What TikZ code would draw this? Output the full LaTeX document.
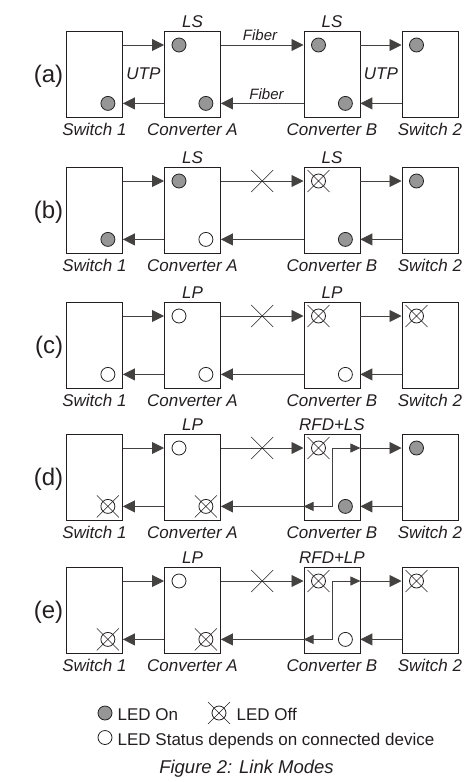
\documentclass[tikz,border=0pt]{standalone}
\usepackage{fontspec}
\setmainfont{Liberation Sans}
\usetikzlibrary{arrows.meta,calc}
\definecolor{ledgray}{RGB}{150,150,150}
\definecolor{ink}{RGB}{35,31,32}
\tikzset{
  box/.style={draw=ink, line width=0.9pt, minimum width=56pt, minimum height=85.5pt,
    anchor=north west, inner sep=0pt, fill=white},
  led/.style={circle, draw=ink, line width=0.8pt, minimum size=14pt, inner sep=0pt},
  xline/.style={draw=ink, line width=0.6pt},
  conn/.style={draw=ink!85, line width=0.9pt, -{Triangle[length=12pt,width=12pt]}},
  loopc/.style={draw=ink!85, line width=0.9pt,
    {Triangle[length=10pt,width=9pt]}-{Triangle[length=10pt,width=9pt]}},
  lbl/.style={font=\fontsize{17}{20}\selectfont\itshape, text=ink, inner sep=0pt},
  fib/.style={font=\fontsize{15}{18}\selectfont\itshape, text=ink, inner sep=0pt},
  plbl/.style={font=\fontsize{24}{28}\selectfont, text=ink, inner sep=0pt},
  leg/.style={font=\fontsize{17}{20}\selectfont, text=ink, inner sep=0pt},
  capt/.style={font=\fontsize{18.5}{22}\selectfont\itshape, text=ink, inner sep=0pt},
}
\def\LEDon#1#2{\node[led,fill=ledgray] (#1) at (#2) {};}
\def\LEDst#1#2{\node[led,fill=white] (#1) at (#2) {};}
\def\LEDoff#1#2{\node[led,fill=white] (#1) at (#2) {};
  \draw[xline] ([shift={(-11pt,-11pt)}]#1.center) -- ([shift={(11pt,11pt)}]#1.center)
               ([shift={(-11pt,11pt)}]#1.center) -- ([shift={(11pt,-11pt)}]#1.center);}
\begin{document}
\begin{tikzpicture}[x=1pt,y=-1pt]
\path[use as bounding box] (0,0) rectangle (474,782);
\foreach \p/\t/\A/\B/\C/\D/\E/\F/\la/\lb in {
  a/31/on/on/on/on/on/on/LS/LS,
  b/167/on/on/st/off/on/on/LS/LS,
  c/302/st/st/st/off/st/off/LP/LP,
  d/434/off/st/off/off/on/on/LP/RFD+LS,
  e/567/off/st/off/off/st/off/LP/RFD+LP}{
  \node[box] (s1\p) at (66,\t) {};
  \node[box] (ca\p) at (164,\t) {};
  \node[box] (cb\p) at (303.5,\t) {};
  \node[box] (s2\p) at (401.5,\t) {};
  % connectors
  \draw[conn] ([yshift=-14pt]s1\p.north east) -- ([yshift=-14pt]ca\p.north west);
  \draw[conn] ([yshift=-14pt]ca\p.north east) -- ([yshift=-14pt]cb\p.north west);
  \draw[conn] ([yshift=-14pt]cb\p.north east) -- ([yshift=-14pt]s2\p.north west);
  \draw[conn] ([yshift=14pt]ca\p.south west) -- ([yshift=14pt]s1\p.south east);
  \draw[conn] ([yshift=14pt]cb\p.south west) -- ([yshift=14pt]ca\p.south east);
  \draw[conn] ([yshift=14pt]s2\p.south west) -- ([yshift=14pt]cb\p.south east);
  % LEDs
  \csname LED\A\endcsname{l1\p}{[xshift=-15pt,yshift=14pt]s1\p.south east}
  \csname LED\B\endcsname{l2\p}{[xshift=15pt,yshift=-14pt]ca\p.north west}
  \csname LED\C\endcsname{l3\p}{[xshift=-15pt,yshift=14pt]ca\p.south east}
  \csname LED\D\endcsname{l4\p}{[xshift=15pt,yshift=-14pt]cb\p.north west}
  \csname LED\E\endcsname{l5\p}{[xshift=-15pt,yshift=14pt]cb\p.south east}
  \csname LED\F\endcsname{l6\p}{[xshift=15pt,yshift=-14pt]s2\p.north west}
  % labels
  \node[lbl,anchor=base] (ta\p) at ([yshift=4pt]ca\p.north) {\la};
  \node[lbl,anchor=base] (tb\p) at ([yshift=4pt]cb\p.north) {\lb};
  \node[lbl,anchor=base] (n1\p) at ([yshift=-18pt]s1\p.south) {Switch 1};
  \node[lbl,anchor=base] (n2\p) at ([yshift=-18pt]ca\p.south) {Converter A};
  \node[lbl,anchor=base] (n3\p) at ([yshift=-18pt]cb\p.south) {Converter B};
  \node[lbl,anchor=base] (n4\p) at ([yshift=-18pt]s2\p.south) {Switch 2};
  \node[plbl,anchor=base east] (pl\p) at ([xshift=-2.7pt,yshift=-8.5pt]s1\p.west) {(\p)};
}
% fiber breaks
\foreach \p in {b,c,d,e}{
  \coordinate (br\p) at ($([yshift=-14pt]ca\p.north east)!0.5!([yshift=-14pt]cb\p.north west)$);
  \draw[xline] ([shift={(-11pt,-11pt)}]br\p) -- ([shift={(11pt,11pt)}]br\p)
               ([shift={(-11pt,11pt)}]br\p) -- ([shift={(11pt,-11pt)}]br\p);
}
% remote fault loops
\foreach \p in {d,e}{
  \draw[loopc] ([yshift=14pt]cb\p.south west) -- ([yshift=14pt]cb\p.south)
     -- ([yshift=-14pt]cb\p.north) -- ([yshift=-14pt]cb\p.north east);
}
% cable labels in (a)
\node[lbl,anchor=base] (utp1) at ($(s1a.east)!0.5!(caa.west)+(0,5)$) {UTP};
\node[lbl,anchor=base] (utp2) at ($(cba.east)!0.5!(s2a.west)+(0,5)$) {UTP};
\node[fib,anchor=base] (fib1) at (260,40.7) {Fiber};
\node[fib,anchor=base] (fib2) at (266.5,99.3) {Fiber};
% legend
\node[led,fill=ledgray] (kon) at (105,713) {};
\node[leg,anchor=base west] (ton) at (117.5,720.5) {LED On};
\LEDoff{koff}{219,713}
\node[leg,anchor=base west] (toff) at (236.5,720.5) {LED Off};
\node[led,fill=white] (kst) at (105,737.5) {};
\node[leg,anchor=base west] (tst) at (117.5,745) {LED Status depends on connected device};
\node[capt,anchor=base] (cap) at (246.5,773.3) {Figure 2: Link Modes};
\end{tikzpicture}
\end{document}
